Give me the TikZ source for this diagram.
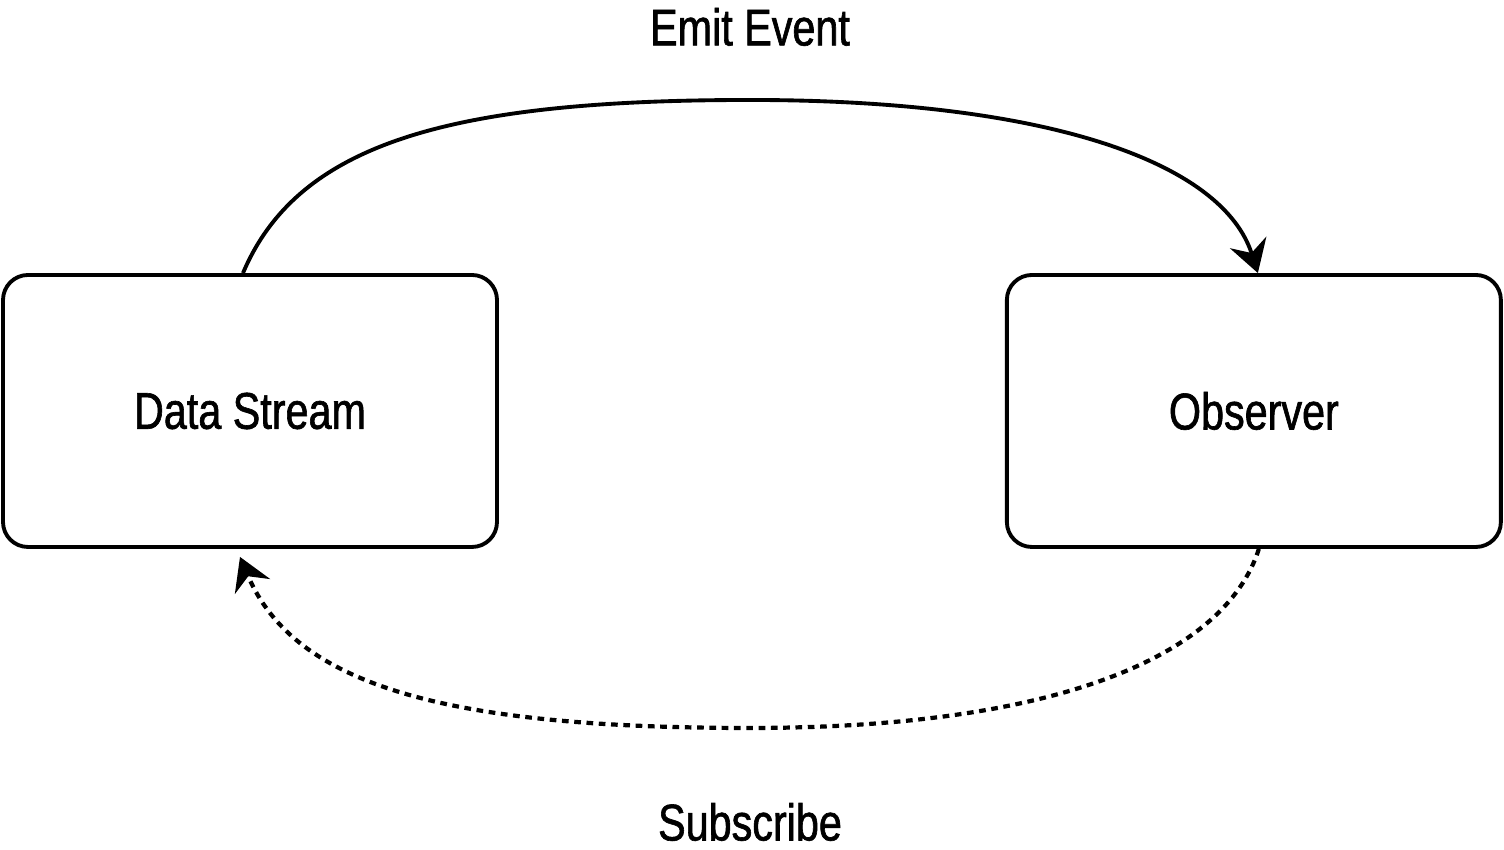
\documentclass[tikz,border=0pt]{standalone}
\usepackage{fontspec}
\setmainfont[FakeStretch=0.8,FakeBold=1.2]{Liberation Sans}
\usetikzlibrary{arrows.meta,positioning,calc}

\begin{document}
\begin{tikzpicture}[box/.style={draw,line width=1.1pt,rounded corners=2.5mm,minimum width=49.4mm,minimum height=27.2mm,font=\fontsize{14.7pt}{17pt}\selectfont},
  lbl/.style={font=\fontsize{14.7pt}{17pt}\selectfont},
  >={Stealth[length=3.2mm,width=3.8mm,inset=1.1mm]}]
\useasboundingbox (0,0) rectangle (15.04,8.5);
\node[box] (stream) at (2.50,4.39) {Data Stream};
\node[box,right=5.06cm of stream] (observer) {Observer};
\node[lbl] (emit) at (7.5,8.23) {Emit Event};
\node[lbl] (subscribe) at (7.5,0.28) {Subscribe};
% emit event: stream -> observer
\draw[->,line width=1.1pt] ($(stream.north)+(-0.07,0)$) .. controls +(0.55,1.3) and +(-3.0,0) .. (7.5,7.5)
  .. controls +(3.0,0) and +(-0.35,1.1) .. ($(observer.north)+(0.04,0)$);
% subscribe: observer -> stream
\draw[->,line width=1.2pt,dash pattern=on 1.9pt off 1.6pt] ($(observer.south)+(0.05,0)$) .. controls +(-0.35,-1.1) and +(3.0,0) .. (7.5,1.22)
  .. controls +(-3.0,0) and +(0.55,-1.3) .. ($(stream.south)+(-0.1,-0.08)$);
\end{tikzpicture}
\end{document}
